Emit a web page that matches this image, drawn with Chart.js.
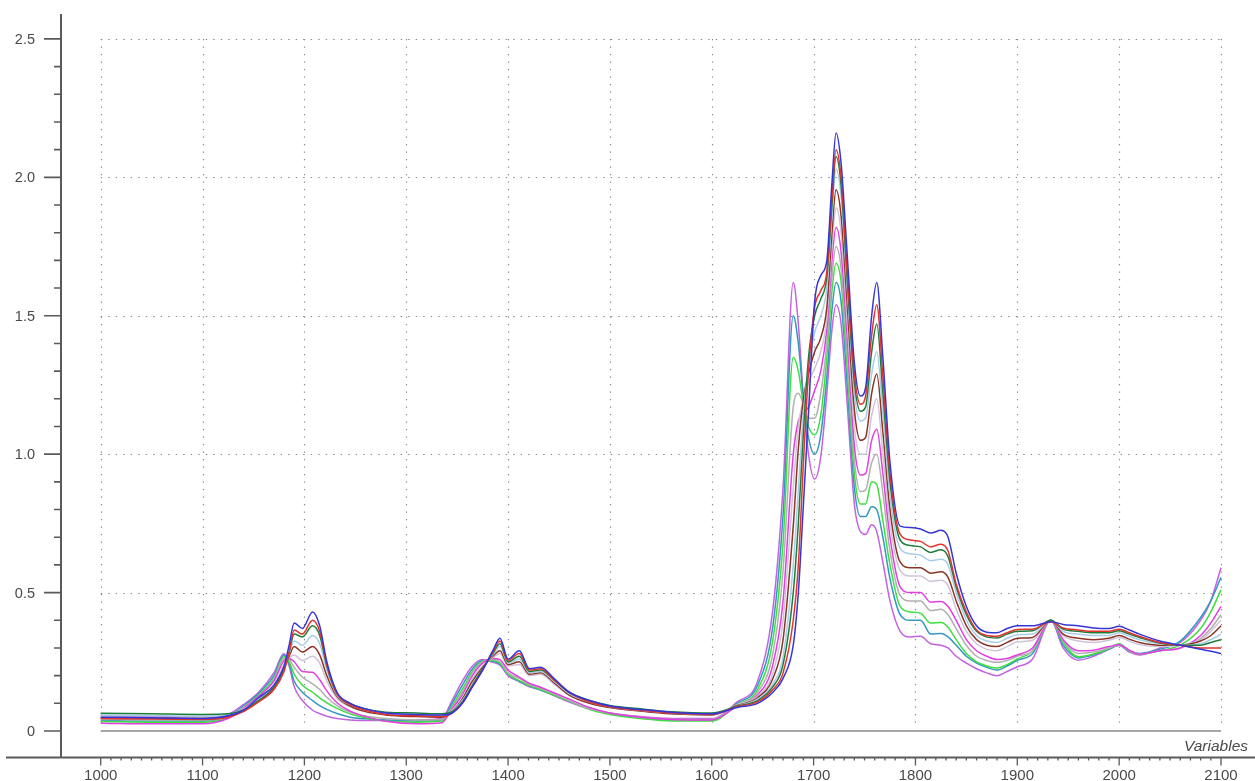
<!DOCTYPE html>
<html>
<head>
<meta charset="utf-8">
<script src="https://cdn.jsdelivr.net/npm/chart.js@4/dist/chart.umd.min.js"></script>
<style>
  html, body { margin: 0; padding: 0; background: #fff; }
  canvas { display: block; }
</style>
</head>
<body>
<canvas id="spectra" width="1255" height="781"></canvas>
<script>
// wavelengths (shared x values for every spectrum)
const wavelengths = [
  1000, 1050, 1100, 1125, 1140, 1155, 1170, 1180, 1185, 1190,
  1198, 1208, 1215, 1222, 1232, 1245, 1260, 1280, 1310, 1335,
  1345, 1355, 1365, 1375, 1385, 1392, 1400, 1411, 1421, 1432,
  1445, 1460, 1480, 1500, 1530, 1560, 1600, 1625, 1645, 1660,
  1670, 1680, 1685, 1690, 1695, 1701, 1707, 1713, 1718, 1722,
  1727, 1733, 1740, 1746, 1751, 1757, 1762, 1768, 1775, 1785,
  1795, 1805, 1815, 1825, 1832, 1840, 1850, 1860, 1870, 1880,
  1890, 1900, 1915, 1933, 1945, 1960, 1975, 1990, 2000, 2010,
  2020, 2040, 2060, 2080, 2090, 2100
];

const xTicks = [1000, 1100, 1200, 1300, 1400, 1500, 1600, 1700, 1800, 1900, 2000, 2100];
const yTicks = [0, 0.5, 1.0, 1.5, 2.0, 2.5];
const yTickLabels = ['0', '0.5', '1.0', '1.5', '2.0', '2.5'];

const blue = [
  .05, .048, .045, .055, .075, .12, .165, .235, .31, .39,
  .37, .43, .38, .25, .14, .10, .08, .065, .06, .058,
  .065, .10, .16, .22, .29, .335, .26, .29, .225, .23,
  .19, .14, .11, .09, .078, .068, .062, .085, .10, .14,
  .19, .31, .50, .82, 1.15, 1.55, 1.645, 1.70, 1.98, 2.16,
  2.05, 1.72, 1.33, 1.21, 1.24, 1.50, 1.62, 1.35, .97, .74,
  .735, .73, .715, .725, .70, .57, .45, .38, .357, .355,
  .37, .38, .38, .395, .385, .38, .372, .37, .378, .365,
  .35, .325, .31, .295, .288, .28
];
const red = [
  .045, .043, .042, .05, .07, .105, .15, .215, .285, .365,
  .35, .40, .36, .24, .135, .095, .075, .06, .055, .052,
  .065, .10, .16, .22, .285, .325, .255, .28, .22, .225,
  .185, .14, .105, .088, .075, .065, .06, .088, .105, .15,
  .21, .40, .60, .97, 1.30, 1.53, 1.59, 1.66, 1.93, 2.10,
  2.0, 1.66, 1.29, 1.18, 1.21, 1.43, 1.54, 1.28, .93, .71,
  .69, .685, .665, .675, .65, .53, .43, .365, .345, .342,
  .355, .367, .368, .395, .372, .365, .36, .36, .368, .355,
  .342, .32, .31, .30, .30, .30
];
const darkGreen = [
  .064, .062, .06, .062, .075, .11, .155, .225, .285, .35,
  .34, .38, .345, .235, .135, .10, .08, .068, .065, .062,
  .07, .105, .165, .225, .28, .315, .25, .27, .215, .22,
  .185, .14, .11, .092, .08, .07, .065, .09, .11, .16,
  .24, .50, .75, 1.08, 1.35, 1.50, 1.56, 1.64, 1.90, 2.075,
  1.97, 1.63, 1.26, 1.155, 1.17, 1.37, 1.47, 1.22, .90, .69,
  .67, .665, .645, .655, .63, .52, .42, .36, .34, .336,
  .35, .36, .362, .40, .368, .36, .355, .355, .362, .35,
  .338, .318, .31, .31, .32, .33
];
const lightBlue = [
  .058, .056, .054, .058, .075, .115, .165, .23, .28, .325,
  .31, .345, .315, .22, .13, .095, .076, .062, .058, .055,
  .07, .11, .17, .225, .275, .305, .245, .26, .21, .215,
  .18, .135, .105, .088, .075, .066, .06, .09, .115, .17,
  .27, .60, .87, 1.15, 1.32, 1.44, 1.50, 1.60, 1.86, 2.03,
  1.93, 1.60, 1.22, 1.12, 1.13, 1.29, 1.37, 1.15, .85, .66,
  .64, .635, .615, .62, .60, .50, .40, .345, .325, .32,
  .335, .348, .35, .40, .36, .35, .345, .345, .355, .342,
  .33, .315, .31, .315, .33, .35
];
const brown = [
  .048, .046, .045, .052, .072, .11, .16, .23, .27, .305,
  .285, .305, .275, .20, .125, .09, .07, .058, .052, .05,
  .07, .115, .18, .23, .27, .29, .24, .25, .205, .21,
  .175, .13, .10, .085, .072, .062, .058, .092, .12, .19,
  .33, .74, 1.02, 1.20, 1.29, 1.37, 1.42, 1.53, 1.80, 1.955,
  1.86, 1.54, 1.16, 1.05, 1.06, 1.22, 1.29, 1.08, .80, .61,
  .59, .59, .57, .575, .555, .47, .38, .33, .31, .305,
  .32, .335, .338, .40, .35, .335, .33, .335, .345, .332,
  .32, .31, .31, .325, .345, .38
];
const lavender = [
  .052, .05, .048, .055, .078, .118, .168, .24, .265, .275,
  .255, .27, .245, .18, .118, .088, .07, .06, .055, .052,
  .075, .12, .19, .235, .265, .28, .235, .24, .20, .205,
  .17, .13, .10, .085, .072, .062, .058, .094, .125, .21,
  .40, .88, 1.10, 1.20, 1.26, 1.31, 1.37, 1.49, 1.75, 1.89,
  1.80, 1.48, 1.10, 1.0, 1.0, 1.14, 1.20, 1.0, .75, .58,
  .56, .56, .54, .545, .525, .44, .36, .315, .295, .29,
  .305, .322, .328, .40, .345, .325, .32, .328, .338, .325,
  .312, .305, .31, .33, .36, .40
];
const magenta = [
  .028, .026, .026, .045, .08, .125, .18, .255, .262, .25,
  .215, .212, .185, .145, .102, .072, .052, .035, .026, .03,
  .08, .13, .20, .245, .262, .258, .22, .195, .172, .158,
  .138, .115, .085, .065, .05, .042, .04, .09, .13, .24,
  .47, 1.0, 1.12, 1.15, 1.17, 1.23, 1.30, 1.45, 1.70, 1.82,
  1.73, 1.42, 1.03, .925, .93, 1.05, 1.09, .93, .70, .52,
  .50, .50, .465, .468, .45, .40, .33, .29, .27, .258,
  .262, .275, .30, .40, .33, .29, .292, .305, .312, .292,
  .278, .29, .30, .345, .39, .45
];
const gray = [
  .042, .04, .04, .05, .085, .125, .185, .262, .258, .23,
  .195, .17, .15, .122, .092, .068, .054, .045, .04, .042,
  .085, .14, .21, .25, .258, .25, .21, .19, .168, .154,
  .134, .11, .08, .064, .05, .042, .042, .095, .14, .28,
  .58, 1.17, 1.22, 1.18, 1.13, 1.13, 1.22, 1.40, 1.64, 1.75,
  1.67, 1.36, .98, .865, .87, .97, 1.0, .86, .65, .49,
  .47, .47, .435, .44, .42, .37, .31, .27, .255, .248,
  .255, .27, .29, .40, .325, .28, .285, .30, .31, .29,
  .278, .29, .30, .335, .37, .42
];
const green = [
  .034, .032, .032, .048, .085, .13, .19, .268, .25, .205,
  .165, .14, .12, .102, .082, .062, .048, .036, .032, .036,
  .09, .15, .215, .252, .255, .245, .205, .182, .164, .15,
  .13, .108, .078, .06, .045, .036, .036, .095, .15, .33,
  .68, 1.35, 1.30, 1.18, 1.10, 1.07, 1.14, 1.35, 1.59, 1.69,
  1.62, 1.31, .93, .82, .82, .90, .89, .76, .60, .45,
  .43, .425, .39, .392, .375, .33, .28, .25, .235, .228,
  .24, .26, .29, .40, .32, .268, .278, .298, .315, .29,
  .278, .29, .31, .37, .43, .51
];
const teal = [
  .038, .036, .036, .052, .09, .135, .20, .275, .242, .18,
  .14, .11, .092, .078, .063, .05, .044, .04, .036, .04,
  .10, .165, .225, .255, .252, .242, .205, .18, .162, .148,
  .13, .108, .08, .062, .048, .04, .04, .10, .165, .38,
  .78, 1.50, 1.40, 1.20, 1.06, 1.00, 1.07, 1.28, 1.52, 1.62,
  1.55, 1.25, .88, .775, .775, .81, .80, .70, .55, .42,
  .40, .40, .35, .352, .34, .31, .27, .245, .23, .22,
  .235, .255, .28, .40, .31, .264, .275, .296, .31, .288,
  .28, .295, .325, .41, .47, .555
];
const violet = [
  .055, .052, .05, .06, .095, .14, .21, .28, .235, .16,
  .11, .075, .063, .053, .045, .04, .038, .038, .04, .046,
  .11, .18, .235, .258, .248, .238, .20, .178, .16, .148,
  .128, .105, .08, .065, .052, .045, .045, .105, .18, .44,
  .88, 1.62, 1.47, 1.20, 1.00, .91, .99, 1.22, 1.45, 1.54,
  1.47, 1.18, .82, .72, .71, .745, .72, .61, .47, .36,
  .34, .342, .315, .31, .30, .27, .245, .225, .21, .20,
  .215, .232, .26, .40, .30, .256, .27, .295, .31, .285,
  .275, .30, .32, .40, .47, .59
];

const spectra = [
  { values: blue, color: '#3535d8' },
  { values: red, color: '#e2332c' },
  { values: darkGreen, color: '#1f7d3c' },
  { values: lightBlue, color: '#a9cce8' },
  { values: brown, color: '#8c3426' },
  { values: lavender, color: '#cfc3d9' },
  { values: magenta, color: '#e13fe1' },
  { values: gray, color: '#b0b0b0' },
  { values: green, color: '#3ede3e' },
  { values: teal, color: '#3298c0' },
  { values: violet, color: '#c462e2' }
];

const X_MIN = 961, X_MAX = 2133.4;
const Y_MIN = -0.0975, Y_MAX = 2.59;

// axes, ticks, dotted grid and labels drawn by hand (old-style plot look)
const plotFrame = {
  id: 'plotFrame',
  beforeDatasetsDraw(chart) {
    const { ctx, chartArea, scales: { x, y } } = chart;
    const x0 = x.getPixelForValue(xTicks[0]);
    const x1 = x.getPixelForValue(xTicks[xTicks.length - 1]);
    ctx.save();

    // dotted grid
    ctx.strokeStyle = '#858585';
    ctx.lineWidth = 1.2;
    ctx.setLineDash([1.4, 6.1]);
    xTicks.forEach(v => {
      const px = Math.round(x.getPixelForValue(v)) + 0.5;
      ctx.beginPath();
      ctx.moveTo(px, y.getPixelForValue(2.5));
      ctx.lineTo(px, y.getPixelForValue(0.02));
      ctx.stroke();
    });
    yTicks.forEach(v => {
      if (v === 0) return;
      const py = Math.round(y.getPixelForValue(v)) + 0.5;
      ctx.beginPath();
      ctx.moveTo(x0, py);
      ctx.lineTo(x1, py);
      ctx.stroke();
    });
    ctx.setLineDash([]);

    // zero line
    ctx.strokeStyle = '#8a8a8a';
    ctx.lineWidth = 1.6;
    ctx.beginPath();
    ctx.moveTo(x0, y.getPixelForValue(0));
    ctx.lineTo(x1, y.getPixelForValue(0));
    ctx.stroke();

    // axis lines
    const axisX = chartArea.left;
    const axisY = chartArea.bottom - 0.5;
    ctx.strokeStyle = '#5a5a5a';
    ctx.lineWidth = 2;
    ctx.beginPath();
    ctx.moveTo(axisX, chartArea.top);
    ctx.lineTo(axisX, axisY);
    ctx.moveTo(6, axisY);
    ctx.lineTo(chartArea.right, axisY);
    ctx.stroke();

    // y ticks: majors every 0.5, minors every 0.1
    ctx.lineWidth = 1.6;
    ctx.beginPath();
    for (let i = 0; i <= 25; i++) {
      const py = y.getPixelForValue(i / 10);
      const len = i % 5 === 0 ? 17 : 7;
      ctx.moveTo(axisX - len, py);
      ctx.lineTo(axisX, py);
    }
    ctx.stroke();

    // x ticks: majors every 100, minors every 10 (pointing down)
    ctx.lineWidth = 1.3;
    ctx.beginPath();
    for (let w = 1000; w <= 2100; w += 10) {
      const px = x.getPixelForValue(w);
      const len = w % 100 === 0 ? 8 : 3;
      ctx.moveTo(px, axisY);
      ctx.lineTo(px, axisY + len);
    }
    ctx.stroke();

    // tick labels
    ctx.fillStyle = '#4a4a4a';
    ctx.font = '14.5px "Liberation Sans", Arial, sans-serif';
    ctx.textAlign = 'right';
    ctx.textBaseline = 'middle';
    yTicks.forEach((v, i) => {
      ctx.fillText(yTickLabels[i], 35, y.getPixelForValue(v) + 1);
    });
    ctx.font = '15px "Liberation Sans", Arial, sans-serif';
    ctx.textAlign = 'center';
    ctx.textBaseline = 'alphabetic';
    xTicks.forEach(v => {
      ctx.fillText(String(v), x.getPixelForValue(v), 779.5);
    });

    // axis title
    ctx.font = 'italic 15.5px "Liberation Sans", Arial, sans-serif';
    ctx.textAlign = 'right';
    ctx.fillText('Variables', 1248, 751);
    ctx.restore();
  }
};

new Chart(document.getElementById('spectra'), {
  type: 'line',
  data: {
    datasets: spectra.map(s => ({
      data: wavelengths.map((w, i) => ({ x: w, y: s.values[i] })),
      borderColor: s.color,
      borderWidth: 1.5,
      pointRadius: 0,
      fill: false,
      cubicInterpolationMode: 'monotone'
    }))
  },
  options: {
    responsive: false,
    animation: false,
    devicePixelRatio: 1,
    layout: {
      padding: { left: 61, top: 14, right: 0, bottom: 23 }
    },
    plugins: {
      legend: { display: false },
      tooltip: { enabled: false }
    },
    scales: {
      x: { type: 'linear', min: X_MIN, max: X_MAX, display: false },
      y: { type: 'linear', min: Y_MIN, max: Y_MAX, display: false }
    }
  },
  plugins: [plotFrame]
});
</script>
</body>
</html>
